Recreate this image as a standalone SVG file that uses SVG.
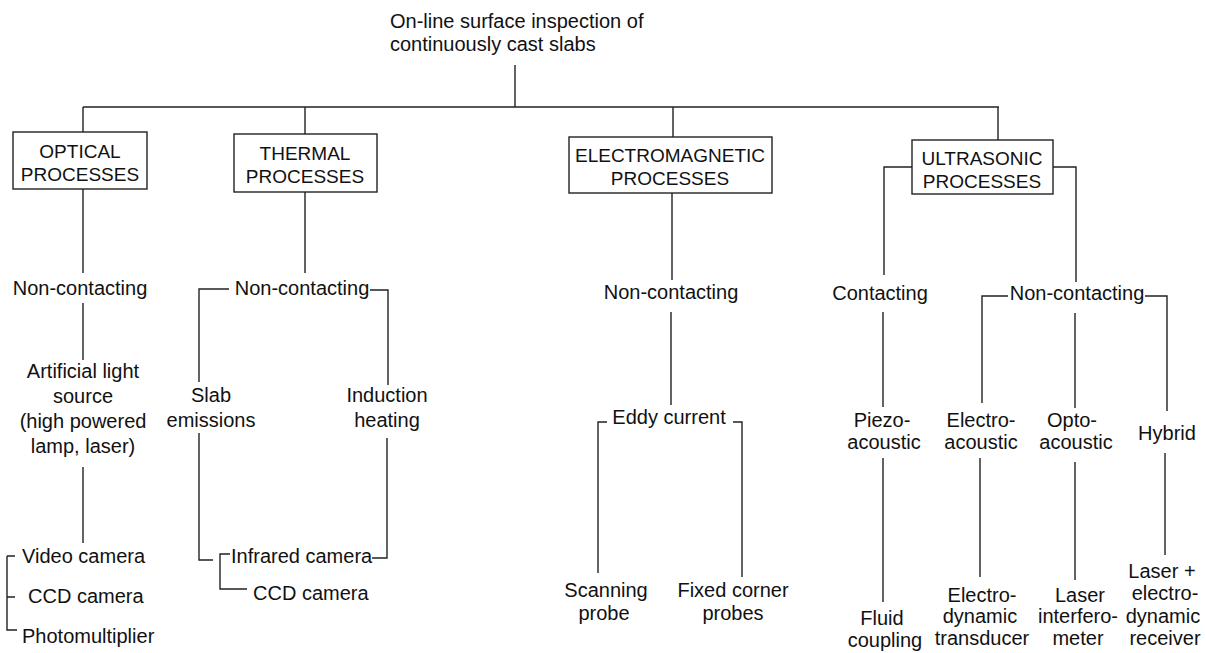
<svg xmlns="http://www.w3.org/2000/svg" width="1206" height="653" viewBox="0 0 1206 653">
<style>
text{font-family:"Liberation Sans",Arial,sans-serif;font-size:20px;fill:#111}
.c{text-anchor:middle}
.b{font-size:19px;text-anchor:middle}
.box{fill:#fff;stroke:#222;stroke-width:1.4}
.ln{fill:none;stroke:#222;stroke-width:1.4}
</style>
<rect width="1206" height="653" fill="#fff"/>
<g id="connectors" class="ln">
<path d="M515,65V107M83,107H999M83,107V132M305,107V134M673,107V137M998,107V140"/>
<path d="M83,189V273M83,303V360M83,467V543"/>
<path d="M7,556H15M7,556V630H17M7,597H15"/>
<path d="M305,192V273M229,289H199V382M370,290H388V385M199,433V560H213M387,438V558H372M230,554H220V589H247"/>
<path d="M672,193V280M671,312V405M607,422H598V573M733,422H742V577"/>
<path d="M912,167H884V275M883,312V407M883,458V602"/>
<path d="M1053,167H1076V282M1008,296H982V403M1145,296H1167V411M1075,313V408M980,458V577M1075,462V580M1165,453V555"/>
</g>
<g id="title"><text x="390" y="28">On-line surface inspection of</text><text x="390" y="51">continuously cast slabs</text></g>
<g id="optical"><rect class="box" x="13" y="132" width="134" height="57"/><text class="b" x="80" y="158">OPTICAL</text><text class="b" x="80" y="181">PROCESSES</text></g>
<g id="thermal"><rect class="box" x="234" y="134" width="143" height="58"/><text class="b" x="305" y="160">THERMAL</text><text class="b" x="305" y="183">PROCESSES</text></g>
<g id="electromagnetic"><rect class="box" x="569" y="137" width="203" height="56"/><text class="b" x="670" y="162">ELECTROMAGNETIC</text><text class="b" x="670" y="185">PROCESSES</text></g>
<g id="ultrasonic"><rect class="box" x="912" y="140" width="141" height="54"/><text class="b" x="982" y="165">ULTRASONIC</text><text class="b" x="982" y="188">PROCESSES</text></g>
<g id="opt-noncontact"><text class="c" x="80" y="295">Non-contacting</text></g>
<g id="opt-light"><text class="c" x="83" y="378">Artificial light</text><text class="c" x="83" y="403">source</text><text class="c" x="83" y="428">(high powered</text><text class="c" x="83" y="453">lamp, laser)</text></g>
<g id="opt-video"><text x="22" y="563">Video camera</text></g>
<g id="opt-ccd"><text x="28" y="603">CCD camera</text></g>
<g id="opt-photo"><text x="22" y="643">Photomultiplier</text></g>
<g id="th-noncontact"><text class="c" x="302" y="295">Non-contacting</text></g>
<g id="th-slab"><text class="c" x="211" y="402">Slab</text><text class="c" x="211" y="427">emissions</text></g>
<g id="th-induction"><text class="c" x="387" y="402">Induction</text><text class="c" x="387" y="427">heating</text></g>
<g id="th-infrared"><text x="231" y="563">Infrared camera</text></g>
<g id="th-ccd"><text x="253" y="600">CCD camera</text></g>
<g id="em-noncontact"><text class="c" x="671" y="299">Non-contacting</text></g>
<g id="em-eddy"><text class="c" x="669" y="424">Eddy current</text></g>
<g id="em-scan"><text class="c" x="606" y="597">Scanning</text><text class="c" x="604" y="620">probe</text></g>
<g id="em-fixed"><text class="c" x="733" y="597">Fixed corner</text><text class="c" x="733" y="620">probes</text></g>
<g id="us-contact"><text class="c" x="880" y="300">Contacting</text></g>
<g id="us-piezo"><text class="c" x="882" y="427">Piezo-</text><text class="c" x="884" y="449">acoustic</text></g>
<g id="us-fluid"><text class="c" x="882" y="625">Fluid</text><text class="c" x="885" y="647">coupling</text></g>
<g id="us-noncontact"><text class="c" x="1077" y="300">Non-contacting</text></g>
<g id="us-electro"><text class="c" x="981" y="427">Electro-</text><text class="c" x="981" y="449">acoustic</text></g>
<g id="us-opto"><text class="c" x="1072" y="427">Opto-</text><text class="c" x="1076" y="449">acoustic</text></g>
<g id="us-hybrid"><text class="c" x="1167" y="440">Hybrid</text></g>
<g id="us-edt"><text class="c" x="982" y="602">Electro-</text><text class="c" x="980" y="623">dynamic</text><text class="c" x="982" y="645">transducer</text></g>
<g id="us-laser"><text class="c" x="1080" y="602">Laser</text><text class="c" x="1078" y="623">interfero-</text><text class="c" x="1078" y="645">meter</text></g>
<g id="us-laser-edr"><text class="c" x="1162" y="578">Laser +</text><text class="c" x="1165" y="600">electro-</text><text class="c" x="1163" y="623">dynamic</text><text class="c" x="1165" y="645">receiver</text></g>
</svg>
